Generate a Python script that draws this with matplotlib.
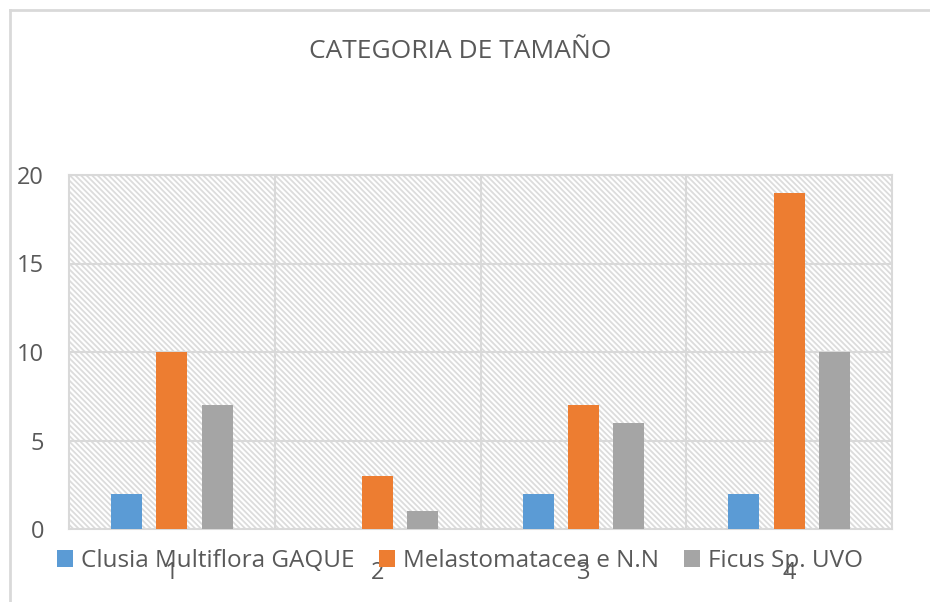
import matplotlib
matplotlib.use("Agg")
import matplotlib.pyplot as plt
from matplotlib.lines import Line2D
import numpy as np

categories = ["1", "2", "3", "4"]
series_names = ["Clusia Multiflora GAQUE", "Melastomatacea e N.N", "Ficus Sp. UVO"]
clusia = [2, 0, 2, 2]
melasto = [10, 3, 7, 19]
ficus = [7, 1, 6, 10]
colors = ["#5B9BD5", "#ED7D31", "#A5A5A5"]
yticks = [0, 5, 10, 15, 20]

plt.rcParams['font.family'] = ['Open Sans', 'DejaVu Sans']
plt.rcParams['hatch.color'] = '#dcdcdc'
plt.rcParams['hatch.linewidth'] = 1.3

fig = plt.figure(figsize=(9.3, 6.02), dpi=100)
ax = fig.add_axes([69/930, 1-529/602, (892-69)/930, (529-175)/602])

# hatched plot area background
ax.add_patch(plt.Rectangle((0, 0), 1, 1, transform=ax.transAxes, facecolor='white',
                           edgecolor='#dcdcdc', hatch='\\\\\\\\\\\\', linewidth=0, zorder=0))
ax.set_facecolor('white')

x = np.arange(len(categories))
w = 0.15
off = 0.22
for i, (vals, name) in enumerate(zip([clusia, melasto, ficus], series_names)):
    ax.bar(x + (i-1)*off, vals, width=w, color=colors[i], label=name, zorder=3)

ax.set_xlim(-0.5, 3.5)
ax.set_ylim(0, 20)
ax.set_yticks(yticks)
ax.set_xticks(x)
ax.set_xticklabels(categories)
for v in [5, 10, 15, 20]:
    ax.axhline(v, color='#d9d9d9', lw=1.5, zorder=1)
for v in [0.5, 1.5, 2.5]:
    ax.axvline(v, color='#d9d9d9', lw=1.5, zorder=1)
for s in ax.spines.values():
    s.set_color('#d9d9d9')
    s.set_linewidth(1.5)
ax.tick_params(axis='both', length=0, colors='#595959', labelsize=17)
ax.tick_params(axis='y', pad=18)
ax.tick_params(axis='x', pad=23)

fig.text(460/930, 1-52/602, "CATEGORIA DE TAMAÑO", ha='center', va='center',
         fontsize=19, color='#595959')

leg = fig.legend(loc='center', bbox_to_anchor=(460/930, 1-561/602), ncol=3, frameon=False,
                 fontsize=17.5, labelcolor='#595959', handlelength=0.65, handleheight=0.65,
                 handletextpad=0.35, columnspacing=1.0)

# chart outer border (left and top visible)
fig.add_artist(Line2D([10/930, 10/930], [0, 1-10/602], transform=fig.transFigure, color='#d9d9d9', lw=2))
fig.add_artist(Line2D([10/930, 1], [1-10/602, 1-10/602], transform=fig.transFigure, color='#d9d9d9', lw=2))

fig.savefig("out.png", dpi=100)
